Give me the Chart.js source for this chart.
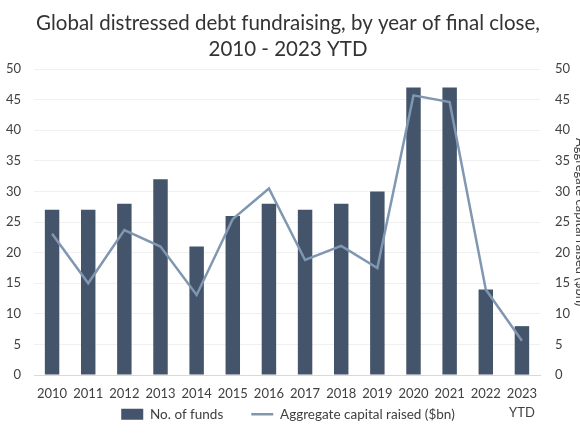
<!DOCTYPE html>
<html>
<head>
<meta charset="utf-8">
<script src="https://cdn.jsdelivr.net/npm/chart.js@4/dist/chart.umd.min.js"></script>
<style>
  html, body { margin: 0; padding: 0; overflow: hidden; background: #fff; }
  #wrap { width: 592px; height: 435px; }
</style>
</head>
<body>
<div id="wrap"><canvas id="debt-chart"></canvas></div>
<script>
var years = ['2010', '2011', '2012', '2013', '2014', '2015', '2016', '2017', '2018', '2019', '2020', '2021', '2022', ['2023', 'YTD']];
var numFunds = [27, 27, 28, 32, 21, 26, 28, 27, 28, 30, 47, 47, 14, 8];
var capitalRaised = [23.1, 15.0, 23.7, 21.0, 13.1, 25.5, 30.5, 18.8, 21.1, 17.5, 45.7, 44.6, 14.0, 5.6];
var titleLines = ['Global distressed debt fundraising, by year of final close,', '2010 - 2023 YTD'];

var textColor = '#404040';
Chart.defaults.font.family = 'Lato, "Open Sans", sans-serif';
Chart.defaults.font.size = 13;
Chart.defaults.color = textColor;

// canvas is wider than the window (right axis title gets cut off like the original),
// so pull title + legend back to the visible centre and lift the legend
// up level with the second row of x labels
var tweakBoxes = {
  id: 'tweakBoxes',
  afterLayout: function(chart) {
    [chart.titleBlock, chart.legend].forEach(function(box) {
      box.right = box.right - 16;
      box.width = box.right - box.left;
    });
    var legend = chart.legend;
    var h = legend.bottom - legend.top;
    legend.top = chart.scales.x.top + 4.5;
    legend.bottom = legend.top + h;
  }
};

var gridColor = function(ctx) {
  return ctx.tick && ctx.tick.value === 0 ? '#d9d9d9' : '#f0f0f0';
};

new Chart(document.getElementById('debt-chart'), {
  type: 'bar',
  data: {
    labels: years,
    datasets: [
      {
        type: 'bar',
        label: 'No. of funds',
        data: numFunds,
        backgroundColor: '#44546a',
        yAxisID: 'y',
        barPercentage: 0.4,
        categoryPercentage: 1,
        pointStyle: 'rect',
        order: 1
      },
      {
        type: 'line',
        label: 'Aggregate capital raised ($bn)',
        data: capitalRaised,
        borderColor: '#8097b1',
        backgroundColor: '#8097b1',
        borderWidth: 2.5,
        pointRadius: 0,
        tension: 0,
        yAxisID: 'y1',
        pointStyle: 'line',
        order: 0
      }
    ]
  },
  options: {
    responsive: true,
    maintainAspectRatio: false,
    animation: false,
    layout: { padding: { left: 0, right: 0, top: 0, bottom: -48 } },
    plugins: {
      title: {
        display: true,
        text: titleLines,
        color: '#333333',
        font: { size: 20.5, weight: 'normal', lineHeight: 1.27 },
        padding: { top: 10.5, bottom: 6.5 }
      },
      legend: {
        position: 'bottom',
        labels: {
          usePointStyle: true,
          pointStyleWidth: 22,
          boxHeight: 11,
          padding: 28,
          font: { size: 13.5 },
          sort: function(a, b) { return a.datasetIndex - b.datasetIndex; }
        }
      },
      tooltip: { enabled: false }
    },
    scales: {
      x: {
        grid: { display: false, drawTicks: false },
        border: { color: '#d9d9d9' },
        ticks: { padding: 10, maxRotation: 0, autoSkip: false, font: { lineHeight: 1.4 } }
      },
      y: {
        position: 'left',
        min: 0,
        max: 50,
        ticks: { stepSize: 5, padding: 13 },
        grid: { color: gridColor, drawTicks: false },
        border: { display: false },
        afterFit: function(scale) { scale.width = 34; }
      },
      y1: {
        position: 'right',
        min: 0,
        max: 50,
        ticks: { stepSize: 5, padding: 15 },
        grid: { drawOnChartArea: false, drawTicks: false },
        border: { display: false },
        title: {
          display: true,
          text: 'Aggregate capital raised ($bn)',
          font: { size: 13 },
          padding: { top: 4, bottom: 3 }
        },
        afterFit: function(scale) { scale.width = 52; }
      }
    }
  },
  plugins: [tweakBoxes]
});
</script>
</body>
</html>
